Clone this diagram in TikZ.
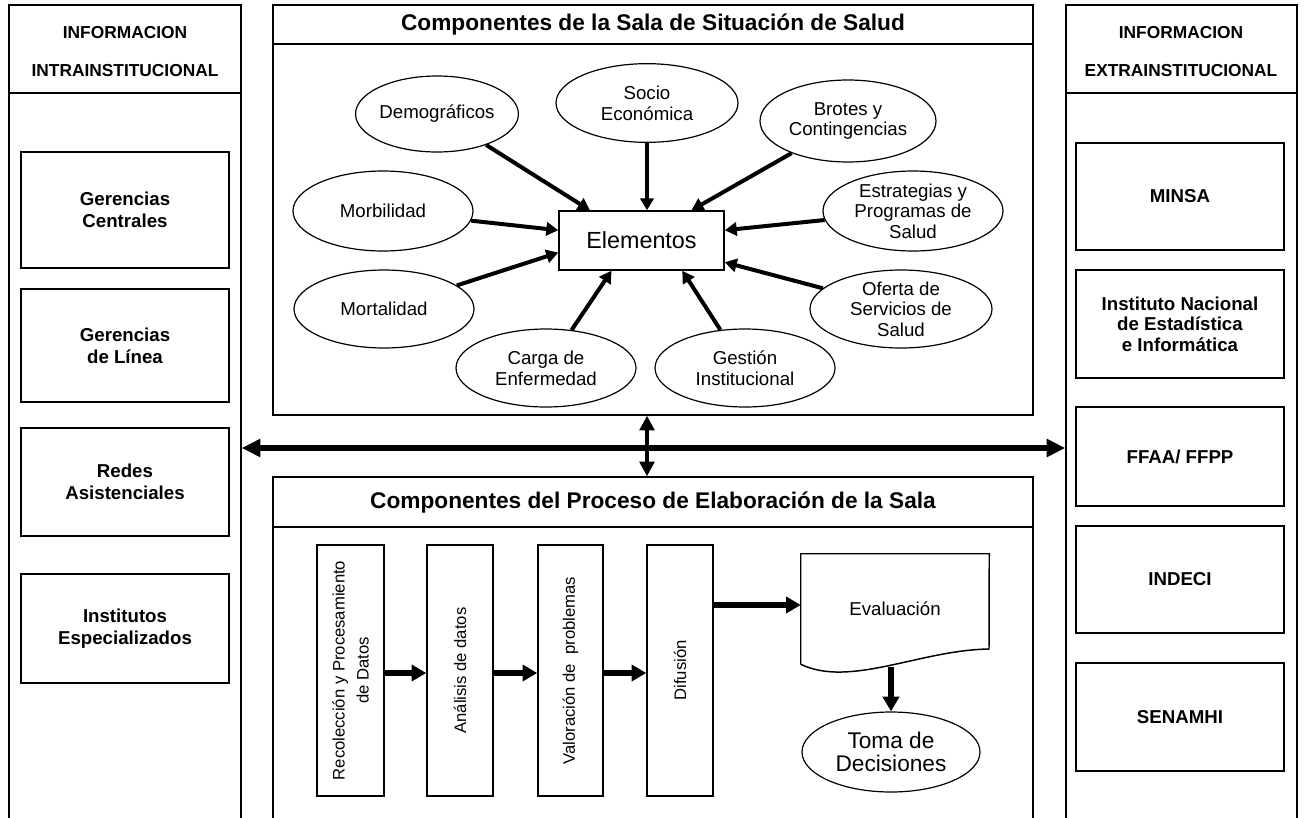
\documentclass[tikz,border=0pt]{standalone}
\usepackage{fontspec}
\setmainfont{Liberation Sans}
\usetikzlibrary{arrows.meta,shapes.geometric,calc}
\begin{document}
\begin{tikzpicture}[x=0.75pt,y=-0.75pt,
  frame/.style={draw, line width=1.1pt, inner sep=0pt},
  box/.style={draw, line width=1.1pt, inner sep=0pt, align=center, minimum width=156pt, font=\fontsize{14}{16.5}\selectfont\bfseries},
  hdr/.style={inner sep=0pt, font=\fontsize{13}{15}\selectfont\bfseries},
  ttl/.style={inner sep=0pt, font=\fontsize{17}{20}\selectfont\bfseries},
  ell/.style={draw, ellipse, line width=0.9pt, inner sep=0pt, align=center, font=\fontsize{14}{15.5}\selectfont},
  vbox/.style={draw, line width=1.1pt, inner sep=0pt, minimum height=188.25pt},
  vtxt/.style={rotate=90, inner sep=0pt, align=center, font=\fontsize{12.5}{18}\selectfont},
  arr/.style={line width=3pt, -{Triangle[length=9pt,width=10pt]}},
  parr/.style={line width=3.8pt, -{Triangle[length=11pt,width=12pt]}},
  bigarr/.style={line width=4pt, {Triangle[length=14pt,width=13pt]}-{Triangle[length=14pt,width=13pt]}},
  vbig/.style={line width=3pt, {Triangle[length=11pt,width=11pt]}-{Triangle[length=11pt,width=11pt]}}
]
\useasboundingbox (0,0) rectangle (1304,818);
\clip (0,0) rectangle (1304,818);
\fill[white] (0,0) rectangle (1304,818);

% ---------- left column ----------
\node[frame, minimum width=174pt, minimum height=633.75pt] (lcol) at (125,427.5) {};
\coordinate (ldiv) at (0,93);
\draw[line width=1.1pt] (lcol.west |- ldiv) -- (lcol.east |- ldiv);
\node[hdr] (lh1) at (125,33) {INFORMACION};
\node[hdr] (lh2) at (125,71) {INTRAINSTITUCIONAL};
\node[box, minimum height=87pt] (gc) at (125,210) {Gerencias\\Centrales};
\node[box, minimum height=84.75pt] (gl) at (125,345.5) {Gerencias\\de Línea};
\node[box, minimum height=81pt] (ra) at (125,482) {Redes\\Asistenciales};
\node[box, minimum height=81.75pt] (ie) at (125,628.5) {Institutos\\Especializados};

% ---------- right column ----------
\node[frame, minimum width=173.25pt, minimum height=633.75pt] (rcol) at (1181.5,427.5) {};
\draw[line width=1.1pt] (rcol.west |- ldiv) -- (rcol.east |- ldiv);
\node[hdr] (rh1) at (1181,33) {INFORMACION};
\node[hdr] (rh2) at (1181,71) {EXTRAINSTITUCIONAL};
\node[box, minimum height=80.25pt] (minsa) at (1180,196.5) {MINSA};
\node[box, minimum height=81pt, font=\fontsize{14}{15.5}\selectfont\bfseries] (inei) at (1180,324) {Instituto Nacional\\de Estadística\\e Informática};
\node[box, minimum height=74.25pt] (ffaa) at (1180,456.5) {FFAA/ FFPP};
\node[box, minimum height=80.25pt] (indeci) at (1180,579.5) {INDECI};
\node[box, minimum height=81pt] (senamhi) at (1180,717) {SENAMHI};

% ---------- top centre ----------
\node[frame, minimum width=570pt, minimum height=307.5pt] (top) at (653,210) {};
\coordinate (tdiv) at (0,44);
\draw[line width=1.1pt] (top.west |- tdiv) -- (top.east |- tdiv);
\node[ttl] (ttop) at (653,25) {Componentes de la Sala de Situación de Salud};

\node[draw, line width=1.1pt, inner sep=0pt, minimum width=123.75pt, minimum height=44.25pt, font=\fontsize{17.5}{20}\selectfont] (elem) at (641.5,240.5) {Elementos};

\node[ell, minimum width=114pt, minimum height=57pt] (demo) at (437,114) {Demográficos};
\node[ell, minimum width=136.5pt, minimum height=59pt] (socio) at (647,103) {Socio\\Económica};
\node[ell, minimum width=132pt, minimum height=61.5pt] (brotes) at (848,121) {Brotes y\\Contingencias};
\node[ell, minimum width=135pt, minimum height=60pt] (morb) at (383,211) {Morbilidad};
\node[ell, minimum width=135pt, minimum height=60pt] (estr) at (913,211) {Estrategias y\\Programas de\\Salud};
\node[ell, minimum width=135pt, minimum height=58.5pt] (mort) at (384,309) {Mortalidad};
\node[ell, minimum width=136.5pt, minimum height=58.5pt] (ofer) at (901,309) {Oferta de\\Servicios de\\Salud};
\node[ell, minimum width=135pt, minimum height=58.5pt] (carga) at (546,368) {Carga de\\Enfermedad};
\node[ell, minimum width=135pt, minimum height=58.5pt] (gest) at (745,368) {Gestión\\Institucional};

\draw[arr] (demo) -- ($(elem.north west)!0.19!(elem.north east)$);
\draw[arr] (socio) -- (socio |- elem.north);
\draw[arr] (brotes) -- ($(elem.north west)!0.80!(elem.north east)$);
\draw[arr] (morb) -- ($(elem.north west)!0.33!(elem.south west)$);
\draw[arr] (mort) -- ($(elem.north west)!0.70!(elem.south west)$);
\draw[arr] (estr) -- ($(elem.north east)!0.33!(elem.south east)$);
\draw[arr] (ofer) -- ($(elem.north east)!0.86!(elem.south east)$);
\draw[arr] (carga) -- ($(elem.south west)!0.32!(elem.south east)$);
\draw[arr] (gest) -- ($(elem.south west)!0.745!(elem.south east)$);

% ---------- bottom centre ----------
\node[frame, minimum width=570pt, minimum height=279.75pt] (bot) at (653,663.5) {};
\coordinate (bdiv) at (0,527);
\draw[line width=1.1pt] (bot.west |- bdiv) -- (bot.east |- bdiv);
\node[ttl] (tbot) at (653,503) {Componentes del Proceso de Elaboración de la Sala};

\node[vbox, minimum width=50.25pt] (rec) at (350.5,670.5) {};
\node[vbox, minimum width=49.5pt] (ana) at (460,670.5) {};
\node[vbox, minimum width=48.75pt] (val) at (570.5,670.5) {};
\node[vbox, minimum width=49.5pt] (dif) at (680,670.5) {};
\node[vtxt] (trec) at (rec.center) {Recolección y Procesamiento\\de Datos};
\node[vtxt] (tana) at (ana.center) {Análisis de datos};
\node[vtxt] (tval) at (val.center) {Valoración de\ \ problemas};
\node[vtxt] (tdif) at (dif.center) {Difusión};

\coordinate (parry) at (0,673);
\draw[parr] (rec.east |- parry) -- (ana.west |- parry);
\draw[parr] (ana.east |- parry) -- (val.west |- parry);
\draw[parr] (val.east |- parry) -- (dif.west |- parry);

\node[inner sep=0pt, minimum width=141pt, minimum height=82.5pt, font=\fontsize{14}{16}\selectfont] (eval) at (895,609) {Evaluación};
\draw[line width=1.1pt] (eval.south west) -- (eval.north west) -- (eval.north east) -- (989,649)
   .. controls (920,650) and (850,688) .. (eval.south west);
\coordinate (evalbot) at (891,667);
\coordinate (evaly) at (0,605);
\draw[parr] (dif.east |- evaly) -- (eval.west |- evaly);

\node[ell, minimum width=133.5pt, minimum height=60pt, font=\fontsize{17}{17.5}\selectfont] (toma) at (891,752) {Toma de\\Decisiones};
\draw[parr] (evalbot) -- (toma.north);

% ---------- connecting arrows ----------
\coordinate (hy) at (0,448);
\coordinate (vx) at (647,0);
\draw[bigarr] (lcol.east |- hy) -- (rcol.west |- hy);
\draw[vbig] (top.south -| vx) -- (bot.north -| vx);
\end{tikzpicture}
\end{document}
